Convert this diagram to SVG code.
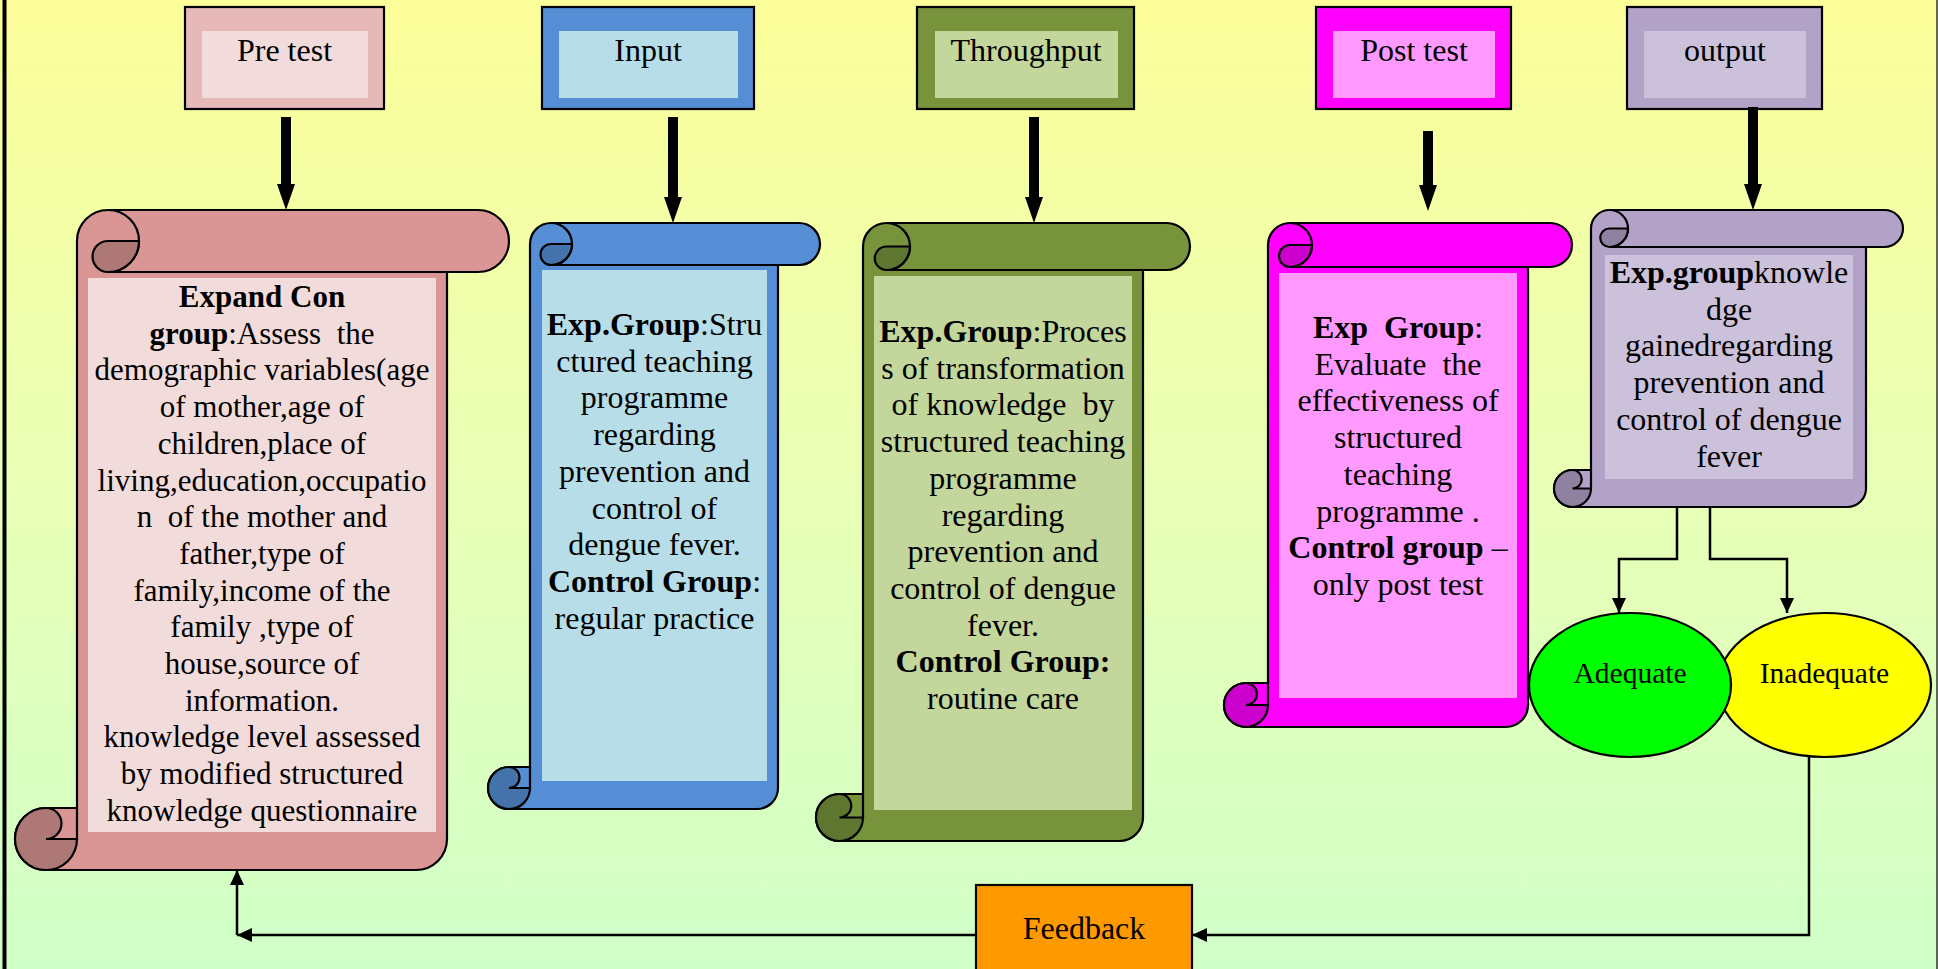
<svg xmlns="http://www.w3.org/2000/svg" width="1938" height="969" viewBox="0 0 1938 969">
<defs>
<linearGradient id="bg" x1="0" y1="0" x2="0" y2="1">
<stop offset="0" stop-color="#FCFE99"/>
<stop offset="0.5" stop-color="#E9FFB6"/>
<stop offset="1" stop-color="#D0FFC8"/>
</linearGradient>
<marker id="ah" markerUnits="userSpaceOnUse" markerWidth="16" markerHeight="16" refX="15" refY="7" orient="auto">
<path d="M0,0 L15,7 L0,14 Z" fill="#000"/>
</marker>
<style>
.t{font-family:"Liberation Serif","Times New Roman",serif;font-size:32px;fill:#000;text-anchor:middle}
.s{font-size:31px}
.b{font-weight:bold}
.ol{stroke:#000;stroke-width:2.2}
.ln{fill:none;stroke:#000;stroke-width:2.2}
.cn{fill:none;stroke:#000;stroke-width:2.5}
</style>
</defs>
<rect x="0" y="0" width="1938" height="969" fill="url(#bg)"/>
<line x1="4.5" y1="0" x2="4.5" y2="969" stroke="#000" stroke-width="4"/>
<line x1="1937" y1="0" x2="1937" y2="969" stroke="#333" stroke-width="1.5"/>

<g id="hdr-pretest">
<rect x="185" y="7" width="199" height="102" fill="#E6B8B7" class="ol"/>
<rect x="202" y="31" width="166" height="67" fill="#F2DCDB"/>
<text class="t" x="284.5" y="61">Pre test</text>
</g>
<g id="hdr-input">
<rect x="542" y="7" width="212" height="102" fill="#558ED5" class="ol"/>
<rect x="559" y="31" width="179" height="67" fill="#B7DEE8"/>
<text class="t" x="648" y="61">Input</text>
</g>
<g id="hdr-throughput">
<rect x="917" y="7" width="217" height="102" fill="#77933C" class="ol"/>
<rect x="935" y="31" width="183" height="67" fill="#C3D69B"/>
<text class="t" x="1026" y="61">Throughput</text>
</g>
<g id="hdr-posttest">
<rect x="1316" y="7" width="195" height="102" fill="#FF00FF" class="ol"/>
<rect x="1333" y="31" width="162" height="67" fill="#FF99FF"/>
<text class="t" x="1414" y="61">Post test</text>
</g>
<g id="hdr-output">
<rect x="1627" y="7" width="195" height="102" fill="#B3A2C7" class="ol"/>
<rect x="1644" y="31" width="162" height="67" fill="#CCC1DA"/>
<text class="t" x="1725" y="61">output</text>
</g>

<g id="scroll-pretest">
<path d="M77,241 A31,31 0 0 1 108,210 L478,210 A31,31 0 0 1 478,272 L447,272 L447,839 A31,31 0 0 1 416,870 L46,870 A31,31 0 0 1 46,808 L77,808 Z" fill="#DA9694" class="ol"/>
<path d="M108,210 A31,31 0 0 1 108,272 L447,272 M77,808 L77,839" class="ln"/>
<path d="M108,241 L139,241 A31,31 0 0 1 108,272 A15.5,15.5 0 0 1 108,241 Z" fill="#AE7876" class="ol"/>
<path d="M46,808 A15.5,15.5 0 0 1 46,839 L77,839 A31,31 0 0 1 46,870 A31,31 0 0 1 46,808 Z" fill="#AE7876" class="ol"/>
<rect x="88" y="278" width="348" height="554" fill="#F2DCDB"/>
<text class="t s" x="262" y="307" xml:space="preserve"><tspan class="b">Expand Con</tspan></text>
<text class="t s" x="262" y="343.7" xml:space="preserve"><tspan class="b">group</tspan>:Assess  the</text>
<text class="t s" x="262" y="380.4">demographic variables(age</text>
<text class="t s" x="262" y="417.1">of mother,age of</text>
<text class="t s" x="262" y="453.8">children,place of</text>
<text class="t s" x="262" y="490.5">living,education,occupatio</text>
<text class="t s" x="262" y="527.2" xml:space="preserve">n  of the mother and</text>
<text class="t s" x="262" y="563.9">father,type of</text>
<text class="t s" x="262" y="600.6">family,income of the</text>
<text class="t s" x="262" y="637.3">family ,type of</text>
<text class="t s" x="262" y="674">house,source of</text>
<text class="t s" x="262" y="710.7">information.</text>
<text class="t s" x="262" y="747.4">knowledge level assessed</text>
<text class="t s" x="262" y="784.1">by modified structured</text>
<text class="t s" x="262" y="820.8">knowledge questionnaire</text>
</g>

<g id="scroll-input">
<path d="M530,244 A21,21 0 0 1 551,223 L799,223 A21,21 0 0 1 799,265 L778,265 L778,788 A21,21 0 0 1 757,809 L509,809 A21,21 0 0 1 509,767 L530,767 Z" fill="#558ED5" class="ol"/>
<path d="M551,223 A21,21 0 0 1 551,265 L778,265 M530,767 L530,788" class="ln"/>
<path d="M551,244 L572,244 A21,21 0 0 1 551,265 A10.5,10.5 0 0 1 551,244 Z" fill="#4472AA" class="ol"/>
<path d="M509,767 A10.5,10.5 0 0 1 509,788 L530,788 A21,21 0 0 1 509,809 A21,21 0 0 1 509,767 Z" fill="#4472AA" class="ol"/>
<rect x="542" y="270" width="225" height="511" fill="#B7DEE8"/>
<text class="t" x="654.5" y="335"><tspan class="b">Exp.Group</tspan>:Stru</text>
<text class="t" x="654.5" y="371.7">ctured teaching</text>
<text class="t" x="654.5" y="408.4">programme</text>
<text class="t" x="654.5" y="445.1">regarding</text>
<text class="t" x="654.5" y="481.8">prevention and</text>
<text class="t" x="654.5" y="518.5">control of</text>
<text class="t" x="654.5" y="555.2">dengue fever.</text>
<text class="t" x="654.5" y="591.9"><tspan class="b">Control Group</tspan>:</text>
<text class="t" x="654.5" y="628.6">regular practice</text>
</g>

<g id="scroll-throughput">
<path d="M863,246.5 A23.5,23.5 0 0 1 886.5,223 L1166.5,223 A23.5,23.5 0 0 1 1166.5,270 L1143,270 L1143,817.5 A23.5,23.5 0 0 1 1119.5,841 L839.5,841 A23.5,23.5 0 0 1 839.5,794 L863,794 Z" fill="#77933C" class="ol"/>
<path d="M886.5,223 A23.5,23.5 0 0 1 886.5,270 L1143,270 M863,794 L863,817.5" class="ln"/>
<path d="M886.5,246.5 L910,246.5 A23.5,23.5 0 0 1 886.5,270 A11.75,11.75 0 0 1 886.5,246.5 Z" fill="#5F7630" class="ol"/>
<path d="M839.5,794 A11.75,11.75 0 0 1 839.5,817.5 L863,817.5 A23.5,23.5 0 0 1 839.5,841 A23.5,23.5 0 0 1 839.5,794 Z" fill="#5F7630" class="ol"/>
<rect x="874" y="276" width="258" height="534" fill="#C3D69B"/>
<text class="t" x="1003" y="342"><tspan class="b">Exp.Group</tspan>:Proces</text>
<text class="t" x="1003" y="378.7">s of transformation</text>
<text class="t" x="1003" y="415.4" xml:space="preserve">of knowledge  by</text>
<text class="t" x="1003" y="452.1">structured teaching</text>
<text class="t" x="1003" y="488.8">programme</text>
<text class="t" x="1003" y="525.5">regarding</text>
<text class="t" x="1003" y="562.2">prevention and</text>
<text class="t" x="1003" y="598.9">control of dengue</text>
<text class="t" x="1003" y="635.6">fever.</text>
<text class="t b" x="1003" y="672.3">Control Group:</text>
<text class="t" x="1003" y="709">routine care</text>
</g>

<g id="scroll-posttest">
<path d="M1268,245 A22,22 0 0 1 1290,223 L1550,223 A22,22 0 0 1 1550,267 L1528,267 L1528,705 A22,22 0 0 1 1506,727 L1246,727 A22,22 0 0 1 1246,683 L1268,683 Z" fill="#FF00FF" class="ol"/>
<path d="M1290,223 A22,22 0 0 1 1290,267 L1528,267 M1268,683 L1268,705" class="ln"/>
<path d="M1290,245 L1312,245 A22,22 0 0 1 1290,267 A11,11 0 0 1 1290,245 Z" fill="#CC00CC" class="ol"/>
<path d="M1246,683 A11,11 0 0 1 1246,705 L1268,705 A22,22 0 0 1 1246,727 A22,22 0 0 1 1246,683 Z" fill="#CC00CC" class="ol"/>
<rect x="1279" y="273" width="238" height="425" fill="#FF99FF"/>
<text class="t" x="1398" y="338" xml:space="preserve"><tspan class="b">Exp  Group</tspan>:</text>
<text class="t" x="1398" y="374.7" xml:space="preserve">Evaluate  the</text>
<text class="t" x="1398" y="411.4">effectiveness of</text>
<text class="t" x="1398" y="448.1">structured</text>
<text class="t" x="1398" y="484.8">teaching</text>
<text class="t" x="1398" y="521.5">programme .</text>
<text class="t" x="1398" y="558.2"><tspan class="b">Control group</tspan> –</text>
<text class="t" x="1398" y="594.9">only post test</text>
</g>

<g id="scroll-output">
<path d="M1591,228.5 A18.5,18.5 0 0 1 1609.5,210 L1884.5,210 A18.5,18.5 0 0 1 1884.5,247 L1866,247 L1866,488.5 A18.5,18.5 0 0 1 1847.5,507 L1572.5,507 A18.5,18.5 0 0 1 1572.5,470 L1591,470 Z" fill="#B3A2C7" class="ol"/>
<path d="M1609.5,210 A18.5,18.5 0 0 1 1609.5,247 L1866,247 M1591,470 L1591,488.5" class="ln"/>
<path d="M1609.5,228.5 L1628,228.5 A18.5,18.5 0 0 1 1609.5,247 A9.25,9.25 0 0 1 1609.5,228.5 Z" fill="#8F82A0" class="ol"/>
<path d="M1572.5,470 A9.25,9.25 0 0 1 1572.5,488.5 L1591,488.5 A18.5,18.5 0 0 1 1572.5,507 A18.5,18.5 0 0 1 1572.5,470 Z" fill="#8F82A0" class="ol"/>
<rect x="1605" y="255" width="248" height="224" fill="#CCC1DA"/>
<text class="t" x="1729" y="283"><tspan class="b">Exp.group</tspan>knowle</text>
<text class="t" x="1729" y="319.7">dge</text>
<text class="t" x="1729" y="356.4">gainedregarding</text>
<text class="t" x="1729" y="393.1">prevention and</text>
<text class="t" x="1729" y="429.8">control of dengue</text>
<text class="t" x="1729" y="466.5">fever</text>
</g>

<g id="inadequate">
<ellipse cx="1824.5" cy="685" rx="106.5" ry="72" fill="#FFFF00" class="ol"/>
<text class="t" x="1824.5" y="683" style="font-size:29.5px">Inadequate</text>
</g>
<g id="adequate">
<ellipse cx="1630" cy="685" rx="101" ry="72" fill="#00FF00" class="ol"/>
<text class="t" x="1630" y="683" style="font-size:29.5px">Adequate</text>
</g>

<g id="feedback">
<rect x="976" y="885" width="216" height="100" fill="#FF9900" class="ol"/>
<text class="t" x="1084" y="939">Feedback</text>
</g>

<g id="connectors">
<polygon points="281,117 291,117 291,184 295,184 286,210 277,184 281,184" fill="#000"/>
<polygon points="668,117 678,117 678,197 682,197 673,223 664,197 668,197" fill="#000"/>
<polygon points="1029,117 1039,117 1039,197 1043,197 1034,223 1025,197 1029,197" fill="#000"/>
<polygon points="1423,131 1433,131 1433,185 1437,185 1428,211 1419,185 1423,185" fill="#000"/>
<polygon points="1748,107 1758,107 1758,184 1762,184 1753,210 1744,184 1748,184" fill="#000"/>
<path d="M1677,507 V559 H1619 V613" class="cn" marker-end="url(#ah)"/>
<path d="M1710,507 V559 H1787 V613" class="cn" marker-end="url(#ah)"/>
<path d="M1809,757 V935 H1192" class="cn" marker-end="url(#ah)"/>
<path d="M976,935 H237" class="cn" marker-end="url(#ah)"/>
<path d="M237,935 V870" class="cn" marker-end="url(#ah)"/>
</g>
</svg>
